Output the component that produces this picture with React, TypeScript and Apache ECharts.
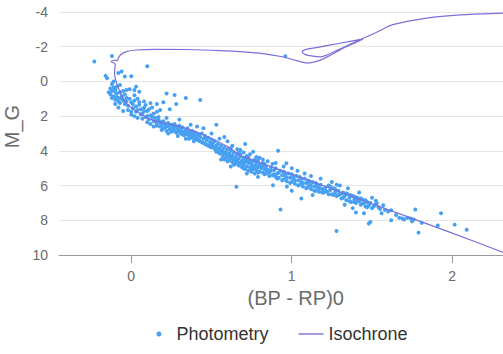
import React, { useEffect, useRef } from "react";
import * as echarts from "echarts";

// Axis ticks / labels
const xTickValues = [0, 1, 2];
const yMin = -4;
const yMax = 10;
const xMin = -0.45;
const xMax = 2.5;

// Photometry (BP-RP)0, M_G
const photometryTurnoff: number[][] = [
  [-0.23, -1.15], [-0.12, -1.46], [0.10, -0.88], [0.96, -1.45], [0.34, 0.95],
  [-0.16, -0.32], [-0.15, -0.19], [-0.08, -0.48], [-0.04, -0.28], [0.0, -0.3], [-0.06, -0.57], [0.03, 0.3],
  [-0.14, 0.62], [-0.12, 0.55], [-0.10, 0.45], [-0.13, 0.75], [-0.11, 0.85], [-0.09, 0.7], [-0.08, 0.95],
  [-0.10, 1.05], [-0.06, 0.85], [-0.05, 1.1], [-0.07, 1.25], [-0.04, 1.3], [-0.03, 0.95], [-0.02, 1.4],
  [0.0, 1.2], [0.01, 1.55], [-0.09, 0.3], [-0.12, 0.15], [-0.11, 0.0], [-0.07, 0.2], [-0.05, 0.55],
  [0.02, 0.8], [0.04, 1.0], [0.05, 1.35], [0.06, 1.6], [0.08, 1.5], [0.03, 1.75], [0.07, 1.85],
  [0.1, 1.7], [0.12, 1.95], [0.09, 2.05], [0.14, 1.85], [0.15, 2.1], [0.11, 2.2], [0.13, 1.5],
  [0.16, 1.3], [0.18, 1.65], [0.05, 0.6], [-0.01, 0.45], [0.08, 1.15], [0.2, 1.2],
  [0.24, 1.6], [0.22, 0.7], [0.28, 1.3], [-0.03, 0.49], [0.02, 0.49], [0.27, 0.78],
  [0.43, 1.07], [-0.1, 1.3], [-0.08, 1.5], [-0.05, 1.7], [0.0, 1.9], [0.04, 2.1], [0.1, 2.35],
  [-0.11, 0.35], [-0.1, 0.6], [-0.09, 0.9], [-0.07, 0.62], [-0.06, 1.0], [-0.04, 0.75], [-0.03, 1.15],
  [-0.01, 1.0], [0.01, 1.3], [0.02, 1.1], [0.03, 1.45], [0.05, 1.2], [0.06, 1.9], [0.08, 1.7],
  [0.09, 1.35], [0.11, 1.6], [0.13, 2.05], [0.14, 2.3], [0.16, 1.75], [0.17, 2.05], [-0.02, 1.65],
  [0.0, 1.75], [0.04, 1.65], [0.07, 2.15], [0.12, 1.25], [-0.13, 0.4], [-0.12, 0.95], [-0.08, 1.15],
  [0.02, 2.0], [0.1, 2.0],
];

const photometryUpperMS: number[][] = [
  [0.15, 2.3], [0.16, 2.45], [0.17, 2.2], [0.18, 2.6], [0.18, 2.35], [0.19, 2.5], [0.2, 2.7], [0.2, 2.3],
  [0.21, 2.45], [0.22, 2.6], [0.22, 2.85], [0.23, 2.4], [0.24, 2.55], [0.24, 2.75], [0.25, 2.9], [0.25, 2.5],
  [0.26, 2.65], [0.27, 2.45], [0.27, 2.8], [0.28, 2.6], [0.28, 2.95], [0.29, 2.7], [0.3, 2.85], [0.3, 2.55],
  [0.31, 3.0], [0.31, 2.75], [0.32, 2.65], [0.33, 2.9], [0.33, 3.1], [0.34, 2.8], [0.35, 3.0], [0.35, 2.7],
  [0.36, 3.15], [0.37, 2.9], [0.37, 3.05], [0.38, 3.25], [0.38, 2.85], [0.39, 3.1], [0.4, 3.3], [0.4, 2.95],
  [0.41, 3.15], [0.42, 3.4], [0.42, 3.05], [0.43, 3.2], [0.44, 3.5], [0.44, 3.0], [0.45, 3.3], [0.46, 3.6],
  [0.46, 3.15], [0.47, 3.4], [0.48, 3.7], [0.48, 3.25], [0.49, 3.5], [0.5, 3.8], [0.5, 3.35],
  [0.22, 2.1], [0.3, 2.2], [0.37, 2.5], [0.45, 2.7], [0.53, 2.5], [0.41, 2.6], [0.5, 3.0],
  [0.12, 2.45], [0.14, 2.6], [0.19, 2.8], [0.23, 3.0], [0.29, 3.15], [0.34, 3.3], [0.39, 3.45],
  [0.16, 2.55], [0.19, 2.35], [0.21, 2.65], [0.23, 2.55], [0.26, 2.85], [0.27, 2.6], [0.29, 2.9],
  [0.31, 2.85], [0.32, 3.05], [0.34, 3.05], [0.36, 2.85], [0.36, 3.3], [0.39, 3.0], [0.41, 3.35],
  [0.43, 3.45], [0.45, 3.55], [0.47, 3.3], [0.47, 3.65], [0.49, 3.75], [0.5, 3.6],
];

const photometryMidMS: number[][] = [
  [0.51, 3.55], [0.52, 3.9], [0.52, 3.45], [0.53, 3.7], [0.54, 4.0], [0.54, 3.6], [0.55, 3.85], [0.56, 4.1],
  [0.56, 3.7], [0.57, 3.95], [0.58, 4.2], [0.58, 3.8], [0.59, 4.05], [0.6, 4.35], [0.6, 3.9], [0.61, 4.15],
  [0.62, 4.4], [0.62, 4.0], [0.63, 4.25], [0.64, 4.55], [0.64, 4.1], [0.65, 4.35], [0.66, 4.6], [0.66, 4.2],
  [0.67, 4.45], [0.68, 4.7], [0.68, 4.3], [0.69, 4.55], [0.7, 4.8], [0.7, 4.4], [0.71, 4.65], [0.72, 4.9],
  [0.72, 4.5], [0.73, 4.7], [0.74, 4.95], [0.74, 4.55], [0.75, 4.8], [0.76, 5.05], [0.76, 4.6], [0.77, 4.85],
  [0.78, 5.1], [0.78, 4.7], [0.79, 4.95], [0.8, 5.2], [0.8, 4.8], [0.81, 5.0], [0.82, 5.25], [0.82, 4.85],
  [0.83, 5.05], [0.84, 5.3], [0.84, 4.9], [0.85, 5.1],
  [0.55, 3.3], [0.6, 3.45], [0.63, 3.7], [0.66, 3.9], [0.71, 3.61], [0.7, 4.1], [0.74, 4.2], [0.78, 4.35],
  [0.82, 4.5], [0.58, 3.2], [0.68, 3.95], [0.76, 4.05], [0.8, 4.4], [0.85, 4.6],
  [0.655, 6.07], [0.62, 4.9], [0.72, 5.3], [0.79, 5.5], [0.56, 4.5],
  [0.53, 3.8], [0.55, 4.15], [0.57, 4.3], [0.59, 4.4], [0.61, 4.55], [0.63, 4.65], [0.65, 4.75], [0.67, 4.85],
  [0.69, 4.95], [0.71, 5.05], [0.73, 5.15], [0.75, 5.2], [0.77, 5.3], [0.6, 4.2], [0.65, 4.5], [0.7, 4.6],
  [0.75, 4.65], [0.62, 3.85], [0.67, 4.1], [0.72, 4.3], [0.77, 4.5], [0.82, 4.7],
  [0.51, 3.75], [0.53, 4.05], [0.55, 3.95], [0.57, 4.1], [0.58, 4.5], [0.6, 4.6], [0.61, 4.3], [0.63, 4.45],
  [0.64, 4.8], [0.66, 4.45], [0.67, 4.7], [0.69, 4.75], [0.7, 5.0], [0.71, 4.45], [0.73, 4.6], [0.74, 5.1],
  [0.76, 4.9], [0.78, 4.95], [0.79, 5.25], [0.81, 4.9], [0.83, 5.35], [0.84, 5.1], [0.86, 5.45], [0.87, 5.15],
  [0.68, 4.2], [0.73, 4.4], [0.79, 4.55], [0.83, 4.75],
];

const photometryLowerMS: number[][] = [
  [0.86, 5.25], [0.87, 4.95], [0.88, 5.4], [0.89, 5.1], [0.9, 5.5], [0.9, 5.0], [0.91, 5.3], [0.92, 5.55],
  [0.93, 5.15], [0.94, 5.4], [0.95, 5.65], [0.95, 5.2], [0.96, 5.45], [0.97, 5.75], [0.98, 5.3], [0.99, 5.55],
  [1.0, 5.8], [1.0, 5.35], [1.01, 5.6], [1.02, 5.9], [1.03, 5.45], [1.04, 5.7], [1.05, 5.95], [1.05, 5.5],
  [1.06, 5.8], [1.07, 6.05], [1.08, 5.6], [1.09, 5.85], [1.1, 6.1], [1.1, 5.7], [1.11, 5.95], [1.12, 6.2],
  [1.13, 5.8], [1.14, 6.05], [1.15, 6.3], [1.15, 5.85], [1.16, 6.1], [1.17, 6.35], [1.18, 5.95], [1.19, 6.2],
  [1.2, 6.4],
  [0.915, 4.0], [0.967, 4.72], [1.036, 5.15], [0.9, 4.7], [0.95, 4.9], [1.0, 5.0], [1.08, 5.3], [1.12, 5.45],
  [1.18, 5.6], [0.88, 4.75], [1.112, 5.79],
  [0.93, 7.38], [1.06, 6.74], [0.883, 5.98], [1.0, 6.3], [1.13, 6.55], [0.97, 6.05],
  [0.89, 5.35], [0.91, 5.6], [0.92, 5.25], [0.94, 5.7], [0.96, 5.3], [0.97, 5.55], [0.99, 5.85], [1.01, 5.45],
  [1.02, 5.7], [1.04, 6.0], [1.06, 5.6], [1.07, 5.85], [1.09, 6.15], [1.11, 5.75], [1.12, 6.0], [1.14, 6.3],
  [1.16, 5.95], [1.17, 6.15], [1.19, 6.4],
];

const photometryFaint: number[][] = [
  [1.21, 6.1], [1.22, 6.35], [1.23, 6.0], [1.24, 6.25], [1.25, 6.5], [1.26, 6.15], [1.27, 6.4], [1.28, 6.6],
  [1.29, 6.3], [1.3, 6.5], [1.31, 6.75], [1.32, 6.4], [1.33, 6.6], [1.34, 6.85], [1.35, 6.5], [1.36, 6.7],
  [1.37, 6.95], [1.38, 6.6], [1.39, 6.8], [1.4, 7.0], [1.41, 6.7], [1.42, 6.9], [1.43, 7.1], [1.44, 6.8],
  [1.45, 7.0], [1.46, 7.2], [1.47, 6.95], [1.48, 7.15], [1.5, 7.3], [1.52, 7.1], [1.54, 7.25],
  [1.25, 5.8], [1.3, 6.0], [1.35, 6.15], [1.393, 6.65], [1.42, 6.4], [1.5, 6.7], [1.524, 6.88], [1.28, 5.95],
  [1.279, 8.62], [1.48, 8.19], [1.49, 8.1], [1.4, 7.55], [1.45, 7.6], [1.33, 7.1], [1.38, 7.3],
  [1.57, 7.13], [1.62, 7.42], [1.62, 8.0], [1.67, 7.85], [1.69, 7.9], [1.7, 7.95], [1.72, 7.85], [1.74, 7.9],
  [1.75, 8.05], [1.76, 7.95], [1.77, 7.38], [1.79, 8.71], [1.81, 8.15], [1.91, 8.3], [1.93, 7.6], [2.015, 8.25],
  [2.09, 8.54], [1.6, 7.5], [1.58, 7.4], [1.65, 7.7], [1.55, 7.35], [1.56, 7.6],
  [1.21, 6.3], [1.23, 6.5], [1.24, 6.05], [1.26, 6.55], [1.27, 6.2], [1.29, 6.55], [1.31, 6.45], [1.32, 6.7],
  [1.34, 6.45], [1.36, 6.9], [1.37, 6.55], [1.39, 6.95], [1.41, 6.85], [1.43, 6.75], [1.44, 7.05], [1.46, 6.85],
  [1.47, 7.25], [1.49, 7.0], [1.51, 7.2], [1.53, 7.0],
];

// Isochrone track, in evolutionary order
const isochrone: number[][] = [
  [2.36, 10.0], [2.0, 8.74], [1.5, 7.05], [1.0, 5.35], [0.75, 4.5], [0.675, 4.25], [0.6, 3.75],
  [0.43, 3.0], [0.3, 2.6], [0.125, 2.2], [0.07, 1.93], [-0.03, 1.26], [-0.083, 0.3], [-0.104, -0.48],
  [-0.1, -1.0], [-0.125, -1.15], [-0.11, -1.22], [-0.085, -1.2], [-0.08, -1.35], [-0.065, -1.55],
  [-0.03, -1.72], [0.03, -1.81], [0.15, -1.85], [0.35, -1.84], [0.55, -1.78], [0.7, -1.7], [0.82, -1.6],
  [0.94, -1.42], [1.03, -1.2], [1.1, -1.06], [1.17, -1.2], [1.25, -1.55], [1.33, -1.95], [1.4, -2.25],
  [1.445, -2.45], [1.3, -2.2], [1.17, -1.98], [1.08, -1.82], [1.065, -1.7], [1.075, -1.6], [1.1, -1.5],
  [1.18, -1.42], [1.28, -1.78], [1.4, -2.3], [1.52, -2.79], [1.63, -3.27], [1.84, -3.65], [2.05, -3.84],
  [2.32, -3.94], [2.5, -3.98],
];

const photometry = [
  ...photometryTurnoff,
  ...photometryUpperMS,
  ...photometryMidMS,
  ...photometryLowerMS,
  ...photometryFaint,
];

const CHART_W = 564;
const CHART_H = 354;

export default function App() {
  const ref = useRef<HTMLDivElement>(null);
  useEffect(() => {
    if (!ref.current) return;
    const chart = echarts.init(ref.current, undefined, { renderer: "svg" });
    chart.setOption({
      animation: false,
      backgroundColor: "#ffffff",
      textStyle: { fontFamily: "'Liberation Sans', Arial, sans-serif" },
      grid: { left: 59, right: 31.5, top: 12, bottom: 99, containLabel: false, outerBoundsMode: "none" },
      xAxis: {
        type: "value",
        min: xMin,
        max: xMax,
        name: "(BP - RP)0",
        nameLocation: "middle",
        nameGap: 33,
        nameTextStyle: { fontSize: 20, color: "#6b6b6b" },
        axisLine: { show: true, onZero: false, lineStyle: { color: "#9a9a9a", width: 1 } },
        axisTick: { show: true, length: 8, customValues: xTickValues, lineStyle: { color: "#9a9a9a" } },
        axisLabel: { customValues: xTickValues, fontSize: 14, color: "#6b6b6b", margin: 14 },
        splitLine: { show: false },
      },
      yAxis: {
        type: "value",
        inverse: true,
        min: yMin,
        max: yMax,
        interval: 2,
        name: "M_G",
        nameLocation: "middle",
        nameGap: 26,
        nameTextStyle: { fontSize: 20, color: "#6b6b6b", padding: [0, 0, 0, 14] },
        axisLine: { show: false },
        axisTick: { show: false },
        axisLabel: { fontSize: 14, color: "#6b6b6b", margin: 11 },
        splitLine: { show: true, lineStyle: { color: "#e6e6e6", width: 1 } },
      },
      legend: {
        bottom: 6,
        left: "center",
        itemWidth: 25,
        itemHeight: 5,
        itemGap: 30,
        textStyle: { fontSize: 18, color: "#333333" },
        data: [
          { name: "Photometry", icon: "circle" },
          { name: "Isochrone", icon: "path://M0,0h25v1.4h-25z" },
        ],
      },
      series: [
        {
          name: "Photometry",
          type: "scatter",
          data: photometry,
          symbolSize: 4,
          itemStyle: { color: "#47a0f2", opacity: 1 },
          z: 2,
        },
        {
          name: "Isochrone",
          type: "line",
          data: isochrone,
          symbol: "none",
          showSymbol: false,
          smooth: 0.3,
          lineStyle: { width: 1.2, color: "#7a70da" },
          itemStyle: { color: "#7a70da" },
          z: 3,
        },
      ],
    });
    return () => chart.dispose();
  }, []);
  return (
    <div
      style={{
        position: "fixed",
        left: 0,
        top: 0,
        width: 503,
        height: 354,
        overflow: "hidden",
        background: "#fff",
      }}
    >
      <div ref={ref} style={{ width: CHART_W, height: CHART_H }} />
    </div>
  );
}
